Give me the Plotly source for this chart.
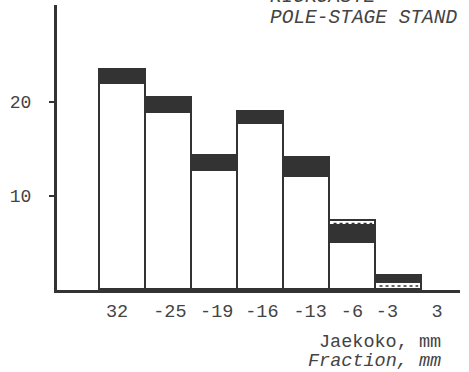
import plotly.graph_objects as go

# --- data ---
fractions = ["32", "-25", "-19", "-16", "-13", "-6", "-3", "3"]
light = [21.9, 18.8, 12.7, 17.7, 12.05, 5.0, 0.75]     # white part
dark = [1.5, 1.6, 1.6, 1.2, 1.95, 1.8, 0.75]          # dark part
top_band = [0, 0, 0, 0, 0, 0.5, 0]                    # white band on top
dotted_at = [None, None, None, None, None, 7.08, 0.42]  # dotted line level

# layout: where the typewritten labels sit along the axis (in bar-index units)
TICK_POS = [-0.13, 1.02, 2.04, 3.02, 4.07, 4.98, 5.74, 6.83]

FONT = "Liberation Mono, Courier New, monospace"
INK = "#333333"
n = len(light)
xs = list(range(n))

fig = go.Figure()
bar_line = dict(color=INK, width=1.6)
fig.add_bar(x=xs, y=light, width=1, marker=dict(color="white", line=bar_line))
fig.add_bar(x=xs, y=dark, width=1, marker=dict(color="#333333", line=bar_line))
fig.add_bar(x=xs, y=top_band, width=1, marker=dict(color="white", line=bar_line))

for i, yv in enumerate(dotted_at):
    if yv is None:
        continue
    fig.add_trace(go.Scatter(x=[i - 0.42, i + 0.42], y=[yv, yv], mode="lines",
                             line=dict(color=INK, width=1.5, dash="dot"),
                             hoverinfo="skip"))

fig.update_layout(
    barmode="stack",
    bargap=0,
    width=469, height=372,
    margin=dict(l=57, r=9, t=5, b=82),
    paper_bgcolor="white", plot_bgcolor="white",
    showlegend=False,
    font=dict(family=FONT, size=18, color="#444"),
)
fig.update_xaxes(
    range=[-1.435, 7.33],
    tickmode="array", tickvals=TICK_POS, ticktext=fractions,
    showline=True, linecolor="#333", linewidth=3,
    showgrid=False, zeroline=False, ticks="", ticklabelstandoff=2,
    tickfont=dict(family=FONT, size=18.5, color="#444"),
)
fig.update_yaxes(
    range=[0, 30.3],
    tickvals=[10, 20],
    showline=True, linecolor="#333", linewidth=3,
    showgrid=False, zeroline=False,
    ticks="outside", ticklen=5, tickwidth=1.5, tickcolor="#333",
    ticklabelstandoff=14,
    tickfont=dict(family=FONT, size=18, color="#444"),
)

fig.add_annotation(xref="paper", yref="paper", x=1.0 - (460 - 443) / 403, y=-(342 - 290) / 285,
                   text="Jaekoko, mm", showarrow=False, xanchor="right", yanchor="middle",
                   font=dict(family=FONT, size=18.5, color="#444"))
fig.add_annotation(xref="paper", yref="paper", x=1.0 - (460 - 443) / 403, y=-(362 - 290) / 285,
                   text="<i>Fraction, mm</i>", showarrow=False, xanchor="right", yanchor="middle",
                   font=dict(family=FONT, size=18.5, color="#444"))
fig.add_annotation(xref="paper", yref="paper", x=(268 - 57) / 403, y=(290 - 18) / 285,
                   text="<i>POLE-STAGE STAND</i>", showarrow=False, xanchor="left", yanchor="middle",
                   font=dict(family=FONT, size=19.5, color="#444"))
fig.add_annotation(xref="paper", yref="paper", x=(268 - 57) / 403, y=(290 - (-3)) / 285,
                   text="<i>RIUKUASTE</i>", showarrow=False, xanchor="left", yanchor="middle",
                   font=dict(family=FONT, size=19.5, color="#444"))

fig.write_html("out.html", config={"displayModeBar": False},
               post_script="document.body.style.margin='0';document.body.style.overflow='hidden';")
